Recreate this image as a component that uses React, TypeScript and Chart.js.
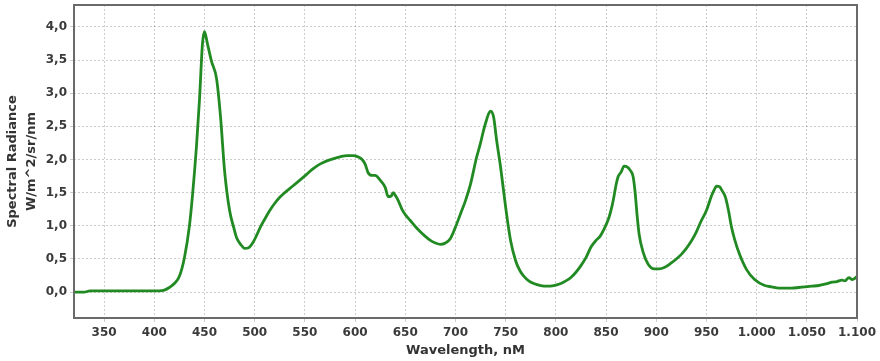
import React, { useEffect, useRef } from "react";
import { Chart, registerables } from "chart.js";

Chart.register(...registerables);

const wavelengths = [
  320, 330, 336, 350, 370, 390, 400, 405, 410, 415, 420, 425, 430, 435, 438, 442, 445, 448, 450, 453,
  457, 462, 466, 470, 475, 479, 482, 486, 490, 494, 498, 502, 506, 510, 515, 520, 525, 530, 538, 545,
  552, 558, 565, 572, 578, 585, 592, 598, 603, 607, 610, 613, 617, 620, 625, 630, 633, 636, 638, 640,
  643, 647, 651, 655, 660, 665, 670, 675, 680, 685, 690, 695, 700, 705, 710, 715, 721, 725, 728, 731,
  733, 735, 738, 741, 745, 750, 755, 760, 764, 768, 773, 778, 785, 791, 798, 805, 810, 815, 820, 825,
  830, 835, 840, 844, 848, 853, 856, 858, 860, 862, 865, 868, 871, 874, 877, 879, 881, 883, 887, 892,
  898, 903, 908, 915, 920, 925, 930, 935, 940, 945, 950, 955, 958, 960, 963, 966, 969, 972, 975, 978,
  983, 990, 998, 1008, 1015, 1022, 1030, 1035, 1042, 1048, 1055, 1062, 1068, 1075, 1080, 1085, 1088, 1092, 1095, 1097,
  1100,
];

const radiance = [
  0.0, 0.0, 0.02, 0.02, 0.02, 0.02, 0.02, 0.02, 0.03, 0.07, 0.13, 0.24, 0.52, 1.0, 1.45, 2.2, 2.9, 3.75, 3.93, 3.74,
  3.48, 3.22, 2.64, 1.83, 1.23, 0.98, 0.82, 0.72, 0.66, 0.67, 0.74, 0.86, 0.99, 1.1, 1.23, 1.34, 1.43, 1.5, 1.6, 1.69,
  1.78, 1.86, 1.93, 1.98, 2.01, 2.04, 2.06, 2.06, 2.04, 2.0, 1.93, 1.8, 1.76, 1.76, 1.69, 1.58, 1.44, 1.45, 1.5, 1.46,
  1.38, 1.24, 1.15, 1.08, 0.99, 0.91, 0.84, 0.78, 0.74, 0.72, 0.74, 0.81, 0.98, 1.18, 1.38, 1.63, 2.03, 2.25, 2.44, 2.6,
  2.69, 2.73, 2.64, 2.29, 1.88, 1.28, 0.77, 0.47, 0.33, 0.24, 0.17, 0.13, 0.1, 0.09, 0.1, 0.13, 0.17, 0.22, 0.3, 0.4,
  0.52, 0.68, 0.78, 0.84, 0.95, 1.13, 1.3, 1.45, 1.62, 1.74, 1.81, 1.9, 1.89, 1.84, 1.74, 1.5, 1.15, 0.87, 0.6, 0.42,
  0.35, 0.35, 0.37, 0.44, 0.5, 0.57, 0.66, 0.77, 0.91, 1.08, 1.23, 1.45, 1.55, 1.6, 1.59, 1.52, 1.43, 1.23, 0.98, 0.8,
  0.57, 0.34, 0.19, 0.1, 0.08, 0.06, 0.06, 0.06, 0.07, 0.08, 0.09, 0.1, 0.12, 0.15, 0.16, 0.18, 0.17, 0.22, 0.19, 0.2,
  0.24,
];

const xTitle = "Wavelength, nM";
const yTitle = ["Spectral Radiance", "W/m^2/sr/nm"];

const formatX = (v: number) =>
  v >= 1000 ? `${Math.floor(v / 1000)}.${String(v % 1000).padStart(3, "0")}` : String(v);
const formatY = (v: number) => v.toFixed(1).replace(".", ",");

const framePlugin = {
  id: "frame",
  afterDraw(chart: any) {
    const { ctx, chartArea } = chart;
    ctx.save();
    ctx.strokeStyle = "#6a6a6a";
    ctx.lineWidth = 2;
    ctx.strokeRect(chartArea.left, chartArea.top, chartArea.right - chartArea.left, chartArea.bottom - chartArea.top);
    ctx.restore();
  },
};

export default function App() {
  const ref = useRef<HTMLCanvasElement | null>(null);
  useEffect(() => {
    if (!ref.current) return;
    const font = { family: "'DejaVu Sans', Verdana, sans-serif", size: 12, weight: "bold" as const };
    const chart = new Chart(ref.current, {
      type: "line",
      data: {
        datasets: [
          {
            data: wavelengths.map((w, i) => ({ x: w, y: radiance[i] })),
            borderColor: "#228a22",
            borderWidth: 2.8,
            pointRadius: 0,
            cubicInterpolationMode: "monotone",
            fill: false,
          },
        ],
      },
      options: {
        animation: false,
        responsive: false,
        maintainAspectRatio: false,
        layout: { padding: { left: 0, top: 5, right: 23, bottom: 0 } },
        plugins: { legend: { display: false }, tooltip: { enabled: false } },
        scales: {
          x: {
            type: "linear",
            min: 320,
            max: 1100,
            ticks: { stepSize: 50, includeBounds: false, callback: (v: any) => formatX(Number(v)), font, color: "#3a3a3a", padding: 4, maxRotation: 0, autoSkip: false },
            grid: { color: "rgba(0,0,0,0.2)", lineWidth: 1, tickLength: 4, drawTicks: true },
            border: { display: false, dash: [2, 2] },
            title: { display: true, text: xTitle, font: { family: font.family, size: 13, weight: "bold" }, color: "#333", padding: { top: 0, bottom: 3 } },
            afterFit: (s: any) => { s.height = 43; s.paddingLeft = 0; s.paddingRight = 0; },
          },
          y: {
            type: "linear",
            min: -0.39,
            max: 4.33,
            ticks: { stepSize: 0.5, includeBounds: false, callback: (v: any) => formatY(Number(v)), font, color: "#3a3a3a", padding: 3 },
            grid: { color: "rgba(0,0,0,0.2)", lineWidth: 1, tickLength: 4, drawTicks: true },
            border: { display: false, dash: [2, 2] },
            title: { display: true, text: yTitle, font: { family: font.family, size: 13, weight: "bold", lineHeight: 1.45 }, color: "#333", padding: { top: 3, bottom: 0 } },
            afterFit: (s: any) => { s.width = 74; s.paddingTop = 0; s.paddingBottom = 0; },
          },
        },
      },
      plugins: [framePlugin],
    });
    return () => chart.destroy();
  }, []);
  return (
    <div style={{ position: "absolute", left: 0, top: 0, width: 880, height: 361, background: "#fff" }}>
      <canvas ref={ref} width={880} height={361} style={{ width: 880, height: 361, display: "block" }} />
    </div>
  );
}
